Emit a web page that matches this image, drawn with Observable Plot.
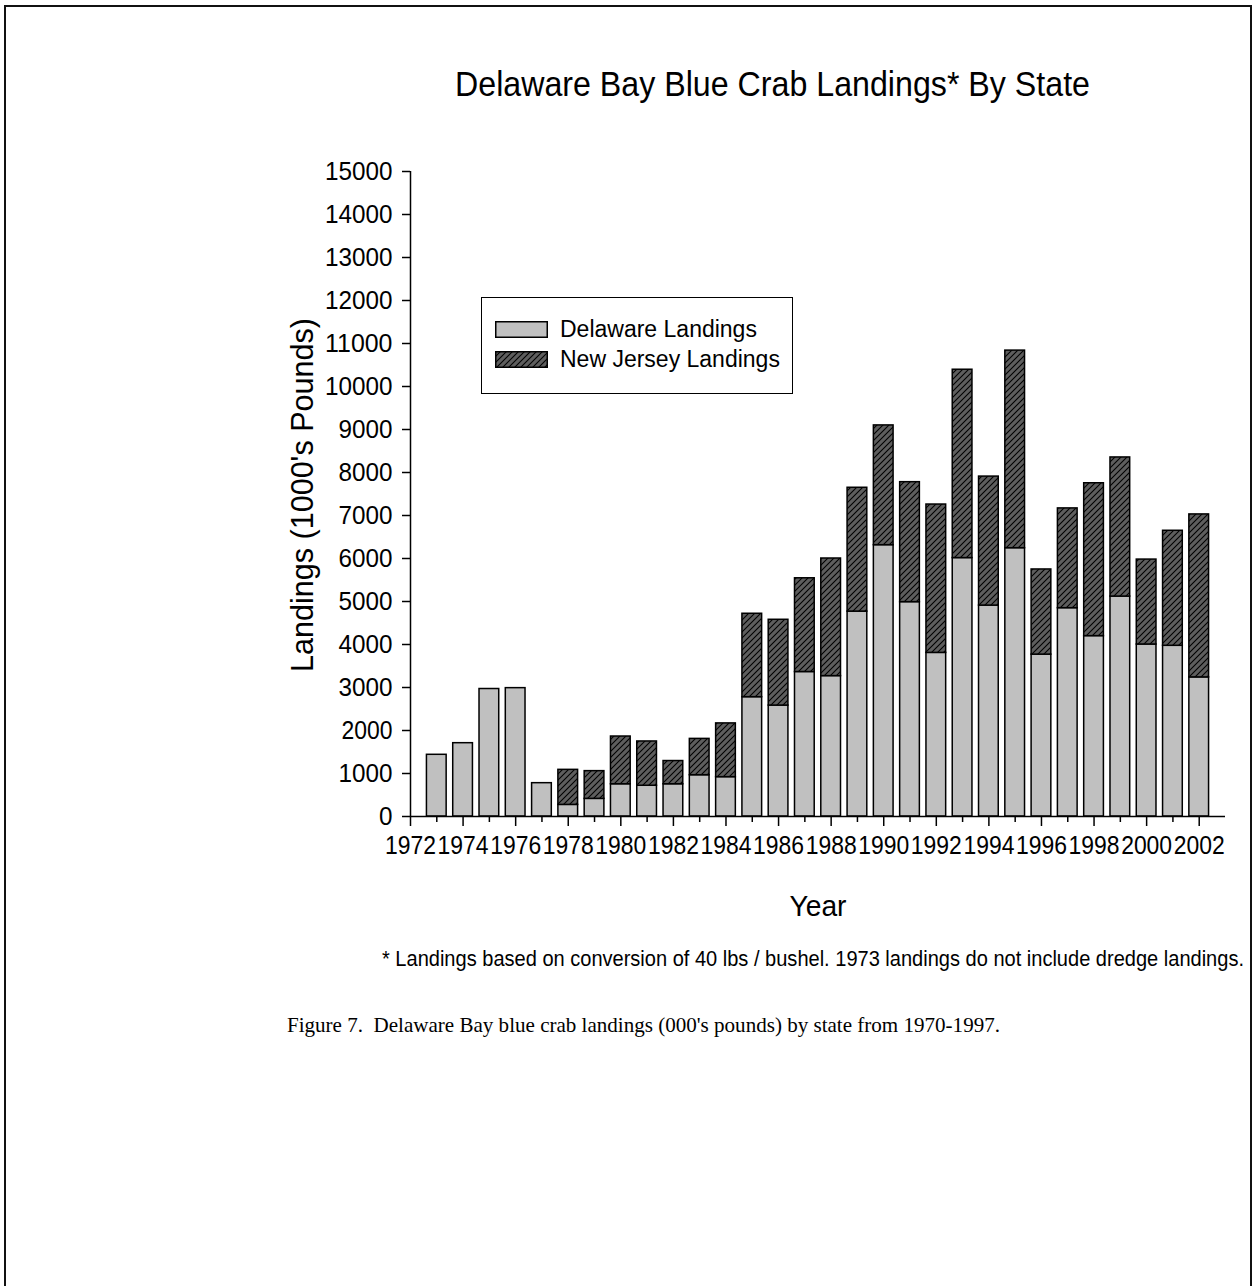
<!DOCTYPE html>
<html>
<head>
<meta charset="utf-8">
<script src="https://cdn.jsdelivr.net/npm/d3@7"></script>
<script src="https://cdn.jsdelivr.net/npm/@observablehq/plot@0.6"></script>
<style>
  html, body { margin: 0; padding: 0; background: #fff; overflow: hidden; }
  #page { position: relative; width: 1257px; height: 1286px; background: #fff; }
  #frame { position: absolute; left: 4px; top: 5px; width: 1248px; height: 1300px; border: 2px solid #111; border-bottom: none; box-sizing: border-box; }
  #chart { position: absolute; left: 0; top: 0; }
  #overlay { position: absolute; left: 0; top: 0; pointer-events: none; }
  #legend { position: absolute; left: 481px; top: 297px; width: 312px; height: 97px; border: 1px solid #000; box-sizing: border-box; background: #fff;
            font-family: "Liberation Sans", Arial, sans-serif; font-size: 23px; color: #000; }
  .lg-row { position: absolute; left: 13px; height: 18px; display: flex; align-items: center; }
  .lg-row svg { display: block; }
  .lg-row span { margin-left: 12px; white-space: nowrap; line-height: 1; }
</style>
</head>
<body>
<div id="page">
  <div id="frame"></div>
  <div id="chart"></div>
  <div id="legend">
    <div class="lg-row" style="top:22px"><svg width="53" height="17"><rect x="0.75" y="0.75" width="51.5" height="15.5" fill="#c0c0c0" stroke="#000" stroke-width="1.5"/></svg><span id="lg1"></span></div>
    <div class="lg-row" style="top:52px"><svg width="53" height="17"><defs><pattern id="hatchL" patternUnits="userSpaceOnUse" width="6" height="6"><rect width="6" height="6" fill="#5e5e5e"/><path d="M-1,1 l2,-2 M0,6 l6,-6 M5,7 l2,-2" stroke="#000" stroke-width="1.1"/></pattern></defs><rect x="0.75" y="0.75" width="51.5" height="15.5" fill="url(#hatchL)" stroke="#000" stroke-width="1.5"/></svg><span id="lg2"></span></div>
  </div>
  <svg id="overlay" width="1257" height="1286"></svg>
</div>
<script>
// ---------------- data ----------------
const years = [1973,1974,1975,1976,1977,1978,1979,1980,1981,1982,1983,1984,1985,1986,1987,
               1988,1989,1990,1991,1992,1993,1994,1995,1996,1997,1998,1999,2000,2001,2002];
const delaware = [1435,1705,2965,2985,775,270,410,750,715,750,960,915,2775,2580,3360,
                  3265,4765,6310,4985,3805,6010,4905,6240,3765,4845,4195,5115,4000,3970,3235];
const newJersey = [0,0,0,0,0,815,645,1110,1030,540,845,1250,1940,1995,2180,
                   2735,2880,2785,2790,3450,4380,3000,4595,1980,2320,3555,3235,1975,2675,3790];
const seriesNames = ["Delaware Landings", "New Jersey Landings"];
const yTicks = [0,1000,2000,3000,4000,5000,6000,7000,8000,9000,10000,11000,12000,13000,14000,15000];
const xLabelYears = [1972,1974,1976,1978,1980,1982,1984,1986,1988,1990,1992,1994,1996,1998,2000,2002];
const xMinorYears = [1973,1975,1977,1979,1981,1983,1985,1987,1989,1991,1993,1995,1997,1999,2001];
const titleText = "Delaware Bay Blue Crab Landings* By State";
const yLabelText = "Landings (1000's Pounds)";
const xLabelText = "Year";
const footnoteText = "* Landings based on conversion of 40 lbs / bushel. 1973 landings do not include dredge landings.";
const captionText = "Figure 7.\u00A0 Delaware Bay blue crab landings (000's pounds) by state from 1970-1997.";

// stacked table
const rows = [];
years.forEach((year, i) => {
  rows.push({year, series: seriesNames[0], y1: 0, y2: delaware[i]});
  if (newJersey[i] > 0) rows.push({year, series: seriesNames[1], y1: delaware[i], y2: delaware[i] + newJersey[i]});
});

const halfBar = 0.375;
const font = "'Liberation Sans', Arial, sans-serif";

const chart = Plot.plot({
  width: 1257,
  height: 880,
  marginLeft: 410,
  marginRight: 32,
  marginTop: 171,
  marginBottom: 64,
  style: {fontFamily: font, fontSize: "24px", color: "#000", background: "transparent", overflow: "visible"},
  x: {domain: [1972, 2003], axis: null},
  y: {domain: [0, 15000], axis: null},
  marks: [
    Plot.rectY(rows, {
      x1: d => d.year - halfBar,
      x2: d => d.year + halfBar,
      y1: "y1",
      y2: "y2",
      fill: d => d.series === seriesNames[0] ? "#c0c0c0" : "url(#hatch)",
      stroke: "#000",
      strokeWidth: 1.5
    }),
    Plot.ruleX([1972], {y1: 0, y2: 15000, stroke: "#000", strokeWidth: 1.5}),
    Plot.ruleY([0], {x1: 1972, x2: 2003, stroke: "#000", strokeWidth: 1.5}),
    Plot.axisY(yTicks, {anchor: "left", tickSize: 8, tickPadding: 10, tickFormat: d => String(d), fontSize: 25, stroke: "#000", strokeWidth: 1.5, label: null}),
    Plot.axisX(xLabelYears, {anchor: "bottom", tickSize: 10, tickPadding: 10, tickFormat: d => String(d), fontSize: 25, stroke: "#000", strokeWidth: 1.5, label: null}),
    Plot.axisX(xMinorYears, {anchor: "bottom", tickSize: 6, tickFormat: () => "", stroke: "#000", strokeWidth: 1.5, label: null})
  ]
});

// hatch pattern definition
const defs = d3.select(chart).insert("defs", ":first-child");
const pat = defs.append("pattern").attr("id", "hatch").attr("patternUnits", "userSpaceOnUse").attr("width", 6).attr("height", 6);
pat.append("rect").attr("width", 6).attr("height", 6).attr("fill", "#5e5e5e");
pat.append("path").attr("d", "M-1,1 l2,-2 M0,6 l6,-6 M5,7 l2,-2").attr("stroke", "#000").attr("stroke-width", 1.1);

// condensed tick labels (narrow font look of the original)
d3.select(chart).selectAll("text").each(function() {
  const t = this.textContent;
  if (/^(19|20)\d\d$/.test(t)) {
    d3.select(this).attr("textLength", 51).attr("lengthAdjust", "spacingAndGlyphs");
  } else if (/^\d+$/.test(t) && t.length > 0) {
    d3.select(this).attr("textLength", 13.5 * t.length).attr("lengthAdjust", "spacingAndGlyphs");
  }
});

document.getElementById("chart").appendChild(chart);

// legend text
document.getElementById("lg1").textContent = seriesNames[0];
document.getElementById("lg2").textContent = seriesNames[1];

// overlay texts: a narrow look is made by a smaller font stretched vertically,
// so the natural text width equals the target width
const ov = d3.select("#overlay");
function addText(t, x, y, size, len, opts = {}) {
  const g = ov.append("g").attr("transform", opts.transform || `translate(${x},${y})`);
  const el = g.append("text")
    .attr("x", 0).attr("y", 0)
    .attr("font-family", opts.family || font)
    .attr("font-size", size)
    .attr("fill", "#000")
    .attr("text-anchor", opts.anchor || "start")
    .text(t);
  const natural = el.node().getComputedTextLength();
  const s = natural > 0 ? len / natural : 1;
  el.attr("font-size", size * s)
    .attr("transform", `scale(1,${1 / s})`)
    .attr("textLength", len)
    .attr("lengthAdjust", "spacingAndGlyphs");
  return el;
}
addText(titleText, 455, 96, 35, 635);
addText(yLabelText, 0, 0, 32, 354, {anchor: "middle", transform: "translate(313,495) rotate(-90)"});
addText(xLabelText, 818, 916, 30, 57, {anchor: "middle"});
addText(footnoteText, 382, 966, 22, 862);
addText(captionText, 287, 1032, 22, 713, {family: "'Liberation Serif', 'Times New Roman', serif"});
</script>
</body>
</html>
